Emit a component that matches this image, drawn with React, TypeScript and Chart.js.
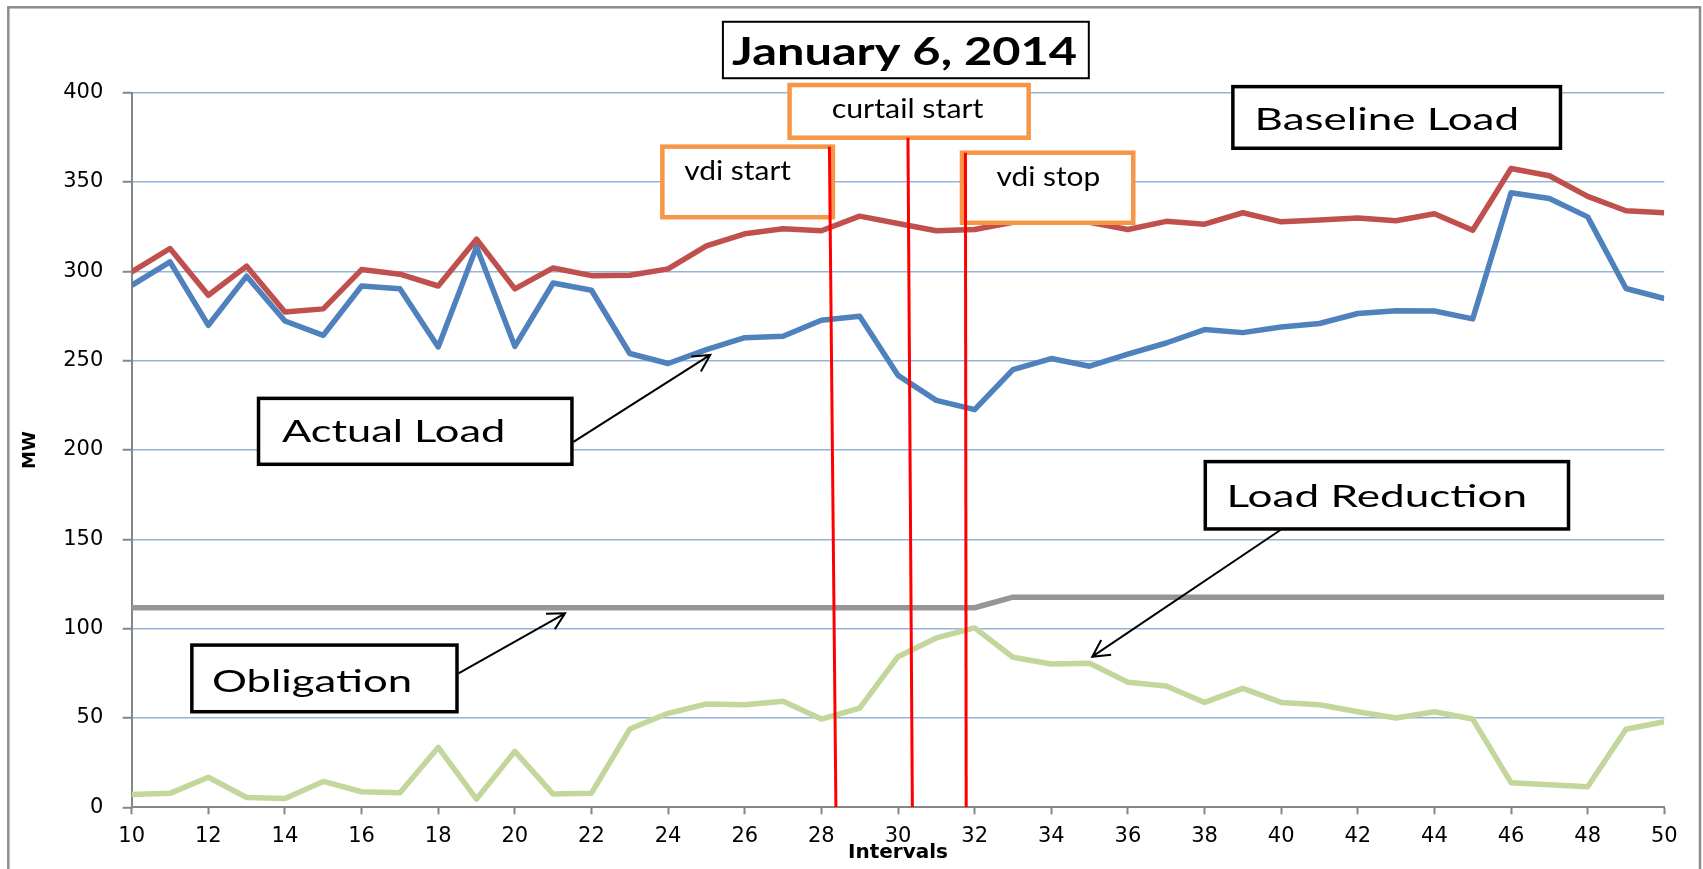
import React, { useEffect, useRef } from "react";
import { Chart, registerables } from "chart.js";

Chart.register(...registerables);

// ---------- data ----------
const intervals = [10, 11, 12, 13, 14, 15, 16, 17, 18, 19, 20, 21, 22, 23, 24, 25, 26, 27, 28, 29, 30, 31, 32, 33, 34, 35, 36, 37, 38, 39, 40, 41, 42, 43, 44, 45, 46, 47, 48, 49, 50];

const baselineLoad = [299.7, 312.8, 286.6, 302.9, 277.3, 279.0, 301.0, 298.4, 291.8, 318.0, 290.2, 301.9, 297.6, 297.8, 301.4, 314.3, 321.0, 323.8, 322.7, 330.9, 326.8, 322.7, 323.4, 327.5, 328.0, 327.5, 323.4, 328.0, 326.4, 332.8, 327.7, 328.7, 329.8, 328.3, 332.2, 323.0, 357.6, 353.5, 342.0, 333.9, 332.8];

const actualLoad = [292.2, 305.3, 269.8, 297.3, 272.2, 264.2, 291.8, 290.2, 257.7, 313.7, 258.0, 293.5, 289.4, 254.0, 248.4, 256.2, 262.9, 263.7, 272.6, 274.9, 241.8, 227.8, 222.6, 245.0, 251.2, 246.9, 253.6, 259.9, 267.4, 265.7, 268.9, 270.8, 276.4, 278.0, 277.8, 273.4, 344.0, 340.8, 330.5, 290.4, 284.8];

const obligation = [111.7, 111.7, 111.7, 111.7, 111.7, 111.7, 111.7, 111.7, 111.7, 111.7, 111.7, 111.7, 111.7, 111.7, 111.7, 111.7, 111.7, 111.7, 111.7, 111.7, 111.7, 111.7, 111.7, 117.6, 117.6, 117.6, 117.6, 117.6, 117.6, 117.6, 117.6, 117.6, 117.6, 117.6, 117.6, 117.6, 117.6, 117.6, 117.6, 117.6, 117.6];

const loadReduction = [7.2, 7.8, 16.8, 5.5, 4.9, 14.5, 8.7, 8.1, 33.5, 4.6, 31.3, 7.4, 7.9, 43.8, 52.6, 57.8, 57.4, 59.3, 49.4, 55.5, 84.3, 94.8, 100.4, 84.0, 80.2, 80.6, 70.0, 67.9, 58.7, 66.6, 58.7, 57.4, 53.5, 50.0, 53.5, 49.4, 13.8, 12.6, 11.5, 43.7, 47.9];

// event marker lines (red), in interval / MW units
const eventTopX = [28.21, 30.26, 31.76];
const eventBottomX = [28.38, 30.375, 31.78];
const eventTopY = [369.8, 374.8, 366.4];
const eventBottomY = [0, 0, 0];

// tick labels
const yTickValues = [0, 50, 100, 150, 200, 250, 300, 350, 400];
const xTickValues = [10, 12, 14, 16, 18, 20, 22, 24, 26, 28, 30, 32, 34, 36, 38, 40, 42, 44, 46, 48, 50];

// ---------- annotations (positions in interval / MW units) ----------
type Note = {
  text: string;
  kind: "title" | "event" | "label";
  box: [number, number, number, number];
  textX: [number, number];
  baseline: number;
  arrow?: [number, number, number, number];
};

const notes: Note[] = [
  { text: "January 6, 2014", kind: "title", box: [25.43, 439.7, 34.98, 408.1], textX: [25.67, 34.67], baseline: 415.5 },
  { text: "curtail start", kind: "event", box: [27.17, 404.3, 33.41, 374.8], textX: [28.3, 32.25], baseline: 385.7 },
  { text: "vdi start", kind: "event", box: [23.85, 369.8, 28.3, 330.3], textX: [24.42, 27.23], baseline: 351.1 },
  { text: "vdi stop", kind: "event", box: [31.67, 366.4, 36.14, 327.2], textX: [32.57, 35.26], baseline: 347.9 },
  { text: "Baseline Load", kind: "label", box: [38.74, 403.4, 47.29, 368.9], textX: [39.38, 46.16], baseline: 379.1 },
  { text: "Actual Load", kind: "label", box: [13.31, 228.9, 21.49, 192.0], textX: [13.92, 19.7], baseline: 204.3, arrow: [21.53, 204.6, 25.1, 253.2] },
  { text: "Obligation", kind: "label", box: [11.57, 90.8, 18.49, 53.5], textX: [12.13, 17.27], baseline: 64.7, arrow: [18.53, 75.0, 21.31, 108.6] },
  { text: "Load Reduction", kind: "label", box: [38.02, 193.5, 47.5, 155.8], textX: [38.65, 46.37], baseline: 167.9, arrow: [40.02, 155.8, 35.07, 84.3] },
];

const noteStyles: Record<string, { font: string; border: number; color: string }> = {
  title: { font: "bold 38px Lato", border: 2, color: "#000000" },
  event: { font: "26px Lato", border: 4.5, color: "#F79646" },
  label: { font: "31px Lato", border: 3.5, color: "#000000" },
};

function drawNotes(chart: any) {
  const ctx: CanvasRenderingContext2D = chart.ctx;
  const xs = chart.scales.x;
  const ys = chart.scales.y;
  const px = (v: number) => xs.getPixelForValue(v);
  const py = (v: number) => ys.getPixelForValue(v);
  ctx.save();
  for (const n of notes) {
    const st = noteStyles[n.kind];
    const x1 = px(n.box[0]);
    const y1 = py(n.box[1]);
    const x2 = px(n.box[2]);
    const y2 = py(n.box[3]);
    ctx.fillStyle = "#ffffff";
    ctx.fillRect(x1, y1, x2 - x1, y2 - y1);
    ctx.lineWidth = st.border;
    ctx.strokeStyle = st.color;
    ctx.lineJoin = "miter";
    ctx.strokeRect(x1, y1, x2 - x1, y2 - y1);

    ctx.font = st.font;
    ctx.fillStyle = "#000000";
    ctx.textAlign = "left";
    ctx.textBaseline = "alphabetic";
    const tl = px(n.textX[0]);
    const tr = px(n.textX[1]);
    const base = py(n.baseline);
    const m = ctx.measureText(n.text);
    const ink = m.actualBoundingBoxLeft + m.actualBoundingBoxRight;
    const sx = (tr - tl) / ink;
    ctx.save();
    ctx.translate(tl, base);
    ctx.scale(sx, 1);
    ctx.fillText(n.text, m.actualBoundingBoxLeft, 0);
    ctx.restore();

    if (n.arrow) {
      const sxp = px(n.arrow[0]);
      const syp = py(n.arrow[1]);
      const tx = px(n.arrow[2]);
      const ty = py(n.arrow[3]);
      const ang = Math.atan2(ty - syp, tx - sxp);
      const L = 19;
      const a = (28 * Math.PI) / 180;
      ctx.strokeStyle = "#000000";
      ctx.lineWidth = 2;
      ctx.lineCap = "butt";
      ctx.beginPath();
      ctx.moveTo(sxp, syp);
      ctx.lineTo(tx, ty);
      ctx.moveTo(tx - L * Math.cos(ang - a), ty - L * Math.sin(ang - a));
      ctx.lineTo(tx, ty);
      ctx.lineTo(tx - L * Math.cos(ang + a), ty - L * Math.sin(ang + a));
      ctx.stroke();
    }
  }
  ctx.restore();
}

const notesPlugin = {
  id: "notes",
  beforeDraw(chart: any) {
    const ctx: CanvasRenderingContext2D = chart.ctx;
    ctx.save();
    ctx.fillStyle = "#ffffff";
    ctx.fillRect(0, 0, chart.width, chart.height);
    ctx.strokeStyle = "#8c8c8c";
    ctx.lineWidth = 2.5;
    ctx.strokeRect(8.3, 7.3, 1691.7, chart.height + 40);
    ctx.restore();
  },
  beforeDatasetsDraw(chart: any) {
    chart.$notesDone = false;
  },
  beforeDatasetDraw(chart: any, args: any) {
    const ds: any = chart.data.datasets[args.index];
    if (ds && ds.isMarker && !chart.$notesDone) {
      chart.$notesDone = true;
      drawNotes(chart);
    }
  },
};

const seriesLine = (label: string, values: number[], color: string) => ({
  label,
  data: intervals.map((x, i) => ({ x, y: values[i] })),
  borderColor: color,
  backgroundColor: color,
  borderWidth: 5.5,
  pointRadius: 0,
  tension: 0,
  borderJoinStyle: "round" as const,
  fill: false,
  order: 1,
});

export default function App() {
  const ref = useRef<HTMLCanvasElement | null>(null);

  useEffect(() => {
    if (!ref.current) return;
    const markerSets = eventTopX.map((tx, i) => ({
      label: "event " + (i + 1),
      data: [
        { x: tx, y: eventTopY[i] },
        { x: eventBottomX[i], y: eventBottomY[i] },
      ],
      borderColor: "#FF0000",
      backgroundColor: "#FF0000",
      borderWidth: 3,
      pointRadius: 0,
      tension: 0,
      fill: false,
      order: 0,
      isMarker: true,
    }));

    const chart = new Chart(ref.current, {
      type: "line",
      data: {
        datasets: [
          seriesLine("Baseline Load", baselineLoad, "#C0504D"),
          seriesLine("Actual Load", actualLoad, "#4F81BD"),
          seriesLine("Obligation", obligation, "#969696"),
          seriesLine("Load Reduction", loadReduction, "#C3D69B"),
          ...markerSets,
        ] as any,
      },
      options: {
        animation: false,
        responsive: false,
        events: [],
        layout: { padding: { top: 92.7, right: 38.7, bottom: 0, left: 0 } },
        plugins: {
          legend: { display: false },
          tooltip: { enabled: false },
          title: { display: false },
        },
        scales: {
          x: {
            type: "linear",
            min: 10,
            max: 50,
            afterFit: (s: any) => {
              s.height = 61.7;
            },
            afterBuildTicks: (s: any) => {
              s.ticks = xTickValues.map((v) => ({ value: v }));
            },
            ticks: {
              autoSkip: false,
              maxRotation: 0,
              padding: 9.8,
              color: "#000000",
              font: { family: "DejaVu Sans", size: 21 },
              callback: (v: any) => String(v),
            },
            grid: {
              drawOnChartArea: false,
              drawTicks: true,
              tickLength: 7,
              tickColor: "#868686",
              tickWidth: 2,
            },
            border: { display: true, color: "#868686", width: 2 },
            title: {
              display: true,
              text: "Intervals",
              color: "#000000",
              font: { family: "DejaVu Sans", size: 20, weight: "bold" },
              padding: { top: 0, bottom: 4 },
            },
          },
          y: {
            type: "linear",
            min: 0,
            max: 400,
            afterFit: (s: any) => {
              s.width = 131.7;
            },
            afterBuildTicks: (s: any) => {
              s.ticks = yTickValues.map((v) => ({ value: v }));
            },
            ticks: {
              padding: 19.4,
              color: "#000000",
              font: { family: "DejaVu Sans", size: 21 },
              callback: (v: any) => String(v),
            },
            grid: {
              color: (c: any) => (c.tick && c.tick.value === 0 ? "rgba(0,0,0,0)" : "#95B3D7"),
              lineWidth: 1.5,
              drawTicks: true,
              tickLength: 9,
              tickColor: "#868686",
              tickWidth: 2,
            },
            border: { display: true, color: "#868686", width: 2 },
            title: {
              display: true,
              text: "MW",
              color: "#000000",
              font: { family: "DejaVu Sans", size: 18, weight: "bold" },
              padding: { top: 19.2, bottom: 0 },
            },
          },
        },
      } as any,
      plugins: [notesPlugin],
    });

    return () => {
      chart.destroy();
    };
  }, []);

  return (
    <div style={{ position: "absolute", left: 0, top: 0, width: 1703, height: 869, overflow: "hidden" }}>
      <canvas ref={ref} width={1703} height={869} style={{ display: "block" }} />
    </div>
  );
}
